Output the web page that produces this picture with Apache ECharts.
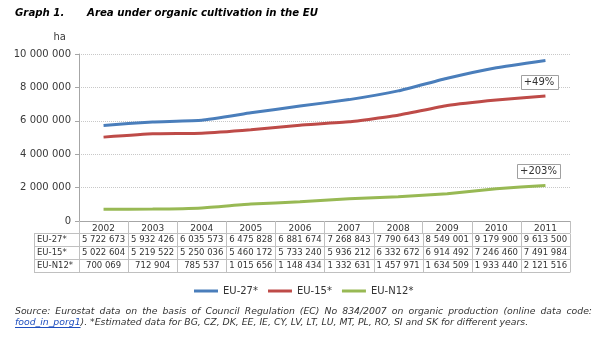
<!DOCTYPE html>
<html><head><meta charset="utf-8">
<script src="https://cdn.jsdelivr.net/npm/echarts@6/dist/echarts.min.js"></script>
<style>html,body{margin:0;padding:0;background:#fff}#c{width:600px;height:344px}</style>
</head><body><div id="c"></div>
<script>
var years = ['2002','2003','2004','2005','2006','2007','2008','2009','2010','2011'];
var seriesNames = ['EU-27*','EU-15*','EU-N12*'];
var eu27 = [5722673,5932426,6035573,6475828,6881674,7268843,7790643,8549001,9179900,9613500];
var eu15 = [5022604,5219522,5250036,5460172,5733240,5936212,6332672,6914492,7246460,7491984];
var euN12 = [700069,712904,785537,1015656,1148434,1332631,1457971,1634509,1933440,2121516];
var yTicks = [0,2000000,4000000,6000000,8000000,10000000];
var notes = ['+49%','+203%'];

var colors = ['#4a7ebb','#be4b48','#98b954'];
var FONT = 'DejaVu Sans';
function fmt(n){return String(n).replace(/\B(?=(\d{3})+(?!\d))/g,' ');}

var chart = echarts.init(document.getElementById('c'));
var allData = [eu27, eu15, euN12];
var option = {
  animation:false,
  textStyle:{fontFamily:FONT},
  grid:{left:79,right:30,top:54,bottom:123},
  xAxis:{type:'category',data:years,boundaryGap:true,
    axisLine:{lineStyle:{color:'#a6a6a6',width:1}},
    axisTick:{show:true,length:12,lineStyle:{color:'#c0c0c0'}},
    axisLabel:{fontSize:9,color:'#333',margin:3,fontFamily:FONT}},
  yAxis:{type:'value',min:yTicks[0],max:yTicks[yTicks.length-1],interval:yTicks[1]-yTicks[0],
    axisLine:{show:true,lineStyle:{color:'#a6a6a6'}},
    axisTick:{show:true,length:4,lineStyle:{color:'#a6a6a6'}},
    axisLabel:{fontSize:10,color:'#3a3a3a',margin:8,fontFamily:FONT,formatter:function(v){return fmt(v);}},
    splitLine:{lineStyle:{color:'#c8c8c8',type:[1,1]}}},
  legend:{top:281,left:189,itemWidth:24,itemHeight:3,itemGap:10,icon:'rect',
    textStyle:{fontSize:10,color:'#333',fontFamily:FONT}},
  series: seriesNames.map(function(n,i){return {name:n,type:'line',data:allData[i],symbol:'none',smooth:0.12,
    lineStyle:{width:3,color:colors[i]},itemStyle:{color:colors[i]}};})
};
chart.setOption(option);

var g = [];
var x0 = chart.convertToPixel({xAxisIndex:0},0);
var x1 = chart.convertToPixel({xAxisIndex:0},1);
var cw = x1 - x0;
var left = x0 - cw/2, right = left + cw*years.length;
var axisY = chart.convertToPixel({yAxisIndex:0},0);
var headerBottom = axisY + 12;
var rowH = 13;
var labelLeft = 34;
var bc = '#c0c0c0';
function line(xa,ya,xb,yb){g.push({type:'line',shape:{x1:xa,y1:ya,x2:xb,y2:yb},style:{stroke:bc,lineWidth:1},silent:true});}
for(var r=0;r<=seriesNames.length;r++){
  var y = Math.round(headerBottom + r*rowH)+0.5;
  line(labelLeft, y, right, y);
}
var tableBottom = Math.round(headerBottom + seriesNames.length*rowH)+0.5;
line(labelLeft+0.5, Math.round(headerBottom)+0.5, labelLeft+0.5, tableBottom);
for(var c=0;c<=years.length;c++){
  var xx = Math.round(left + c*cw)+0.5;
  line(xx, Math.round(headerBottom)+0.5, xx, tableBottom);
}
line(Math.round(right)+0.5, axisY, Math.round(right)+0.5, headerBottom);
seriesNames.forEach(function(n,r){
  var cy = headerBottom + r*rowH + rowH/2 + 0.5;
  g.push({type:'text',x:labelLeft+3,y:cy,style:{text:n,font:'8.5px '+FONT,fill:'#333',textAlign:'left',textVerticalAlign:'middle'},silent:true});
  allData[r].forEach(function(v,i){
    g.push({type:'text',x:left+cw*i+cw/2,y:cy,style:{text:fmt(v),font:'8.5px '+FONT,fill:'#333',textAlign:'center',textVerticalAlign:'middle'},silent:true});
  });
});
function note(txt,cx,cy,w){
  g.push({type:'rect',shape:{x:Math.round(cx-w/2)+0.5,y:Math.round(cy-7)+0.5,width:w,height:14},style:{fill:'#fff',stroke:'#a0a0a0',lineWidth:1},silent:true});
  g.push({type:'text',x:cx,y:cy+0.5,style:{text:txt,font:'10px '+FONT,fill:'#333',textAlign:'center',textVerticalAlign:'middle'},silent:true});
}
note(notes[0],539,82,37);
note(notes[1],538.5,171,43);
g.push({type:'text',x:66,y:37,style:{text:'ha',font:'10px '+FONT,fill:'#3a3a3a',textAlign:'right',textVerticalAlign:'middle'}});
g.push({type:'text',x:15,y:13,style:{text:'Graph 1.',font:'italic bold 10.2px '+FONT,fill:'#000',textVerticalAlign:'middle'}});
g.push({type:'text',x:87,y:13,style:{text:'Area under organic cultivation in the EU',font:'italic bold 10.2px '+FONT,fill:'#000',textVerticalAlign:'middle'}});
var srcFont = 'italic 9.3px '+FONT;
var line1 = 'Source: Eurostat data on the basis of Council Regulation (EC) No 834/2007 on organic production (online data code:';
var ctx = document.createElement('canvas').getContext('2d');
ctx.font = srcFont;
var words = line1.split(' ');
var wsum = 0; words.forEach(function(w){wsum+=ctx.measureText(w).width;});
var sx = 15, ex = 592;
var gap = (ex - sx - wsum)/(words.length-1);
var px = sx;
words.forEach(function(w){
  g.push({type:'text',x:px,y:312,style:{text:w,font:srcFont,fill:'#333',textVerticalAlign:'middle'}});
  px += ctx.measureText(w).width + gap;
});
var link = 'food_in_porg1';
var lw = ctx.measureText(link).width;
g.push({type:'text',x:15,y:323,style:{text:link,font:srcFont,fill:'#1f4fbf',textVerticalAlign:'middle'}});
g.push({type:'line',shape:{x1:15,y1:327.5,x2:15+lw,y2:327.5},style:{stroke:'#1f4fbf',lineWidth:1}});
g.push({type:'text',x:15+lw,y:323,style:{text:'). *Estimated data for BG, CZ, DK, EE, IE, CY, LV, LT, LU, MT, PL, RO, SI and SK for different years.',font:srcFont,fill:'#333',textVerticalAlign:'middle'}});

chart.setOption({graphic:g});
</script></body></html>
